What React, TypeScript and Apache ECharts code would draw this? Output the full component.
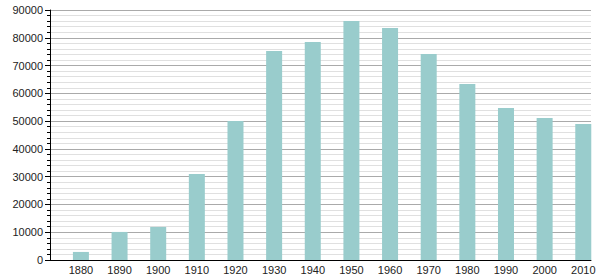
import React, { useEffect, useRef } from "react";
import * as echarts from "echarts";

const years = [1880, 1890, 1900, 1910, 1920, 1930, 1940, 1950, 1960, 1970, 1980, 1990, 2000, 2010];
const population = [2900, 10100, 11900, 31000, 50000, 75200, 78500, 86000, 83500, 74200, 63400, 54700, 51100, 49000];
const yTicks = [0, 10000, 20000, 30000, 40000, 50000, 60000, 70000, 80000, 90000];

export default function App() {
  const ref = useRef<HTMLDivElement>(null);
  useEffect(() => {
    if (!ref.current) return;
    const chart = echarts.init(ref.current, undefined, { renderer: "svg" });
    chart.setOption({
      animation: false,
      backgroundColor: "#ffffff",
      textStyle: { fontFamily: "Liberation Sans, Arial, sans-serif" },
      grid: { left: 50, top: 10, right: 9, bottom: 20, containLabel: false },
      xAxis: {
        type: "value",
        min: 1872,
        max: 2012,
        axisLine: { show: true, lineStyle: { color: "#000", width: 1 } },
        axisTick: { show: false },
        splitLine: { show: false },
        axisLabel: {
          customValues: years,
          color: "#222",
          fontSize: 11,
          margin: 4,
          formatter: (v: number) => String(v),
        },
      },
      yAxis: {
        type: "value",
        min: yTicks[0],
        max: yTicks[yTicks.length - 1],
        interval: 10000,
        axisLine: { show: true, lineStyle: { color: "#000", width: 1 } },
        axisTick: { show: true, length: 5, lineStyle: { color: "#000" } },
        minorTick: { show: true, splitNumber: 5, length: 3, lineStyle: { color: "#000" } },
        splitLine: { show: true, lineStyle: { color: "#aaaaaa", width: 1 } },
        minorSplitLine: { show: true, lineStyle: { color: "#e0e0e0", width: 1 } },
        axisLabel: {
          color: "#222",
          fontSize: 11,
          margin: 7,
          formatter: (v: number) => String(v),
        },
      },
      series: [
        {
          type: "bar",
          data: years.map((y, i) => [y, population[i]]),
          barWidth: 16,
          itemStyle: { color: "#99cccc" },
        },
      ],
    });
    return () => chart.dispose();
  }, []);
  return (
    <div
      ref={ref}
      style={{ position: "absolute", left: 0, top: 0, width: 600, height: 280 }}
    />
  );
}
